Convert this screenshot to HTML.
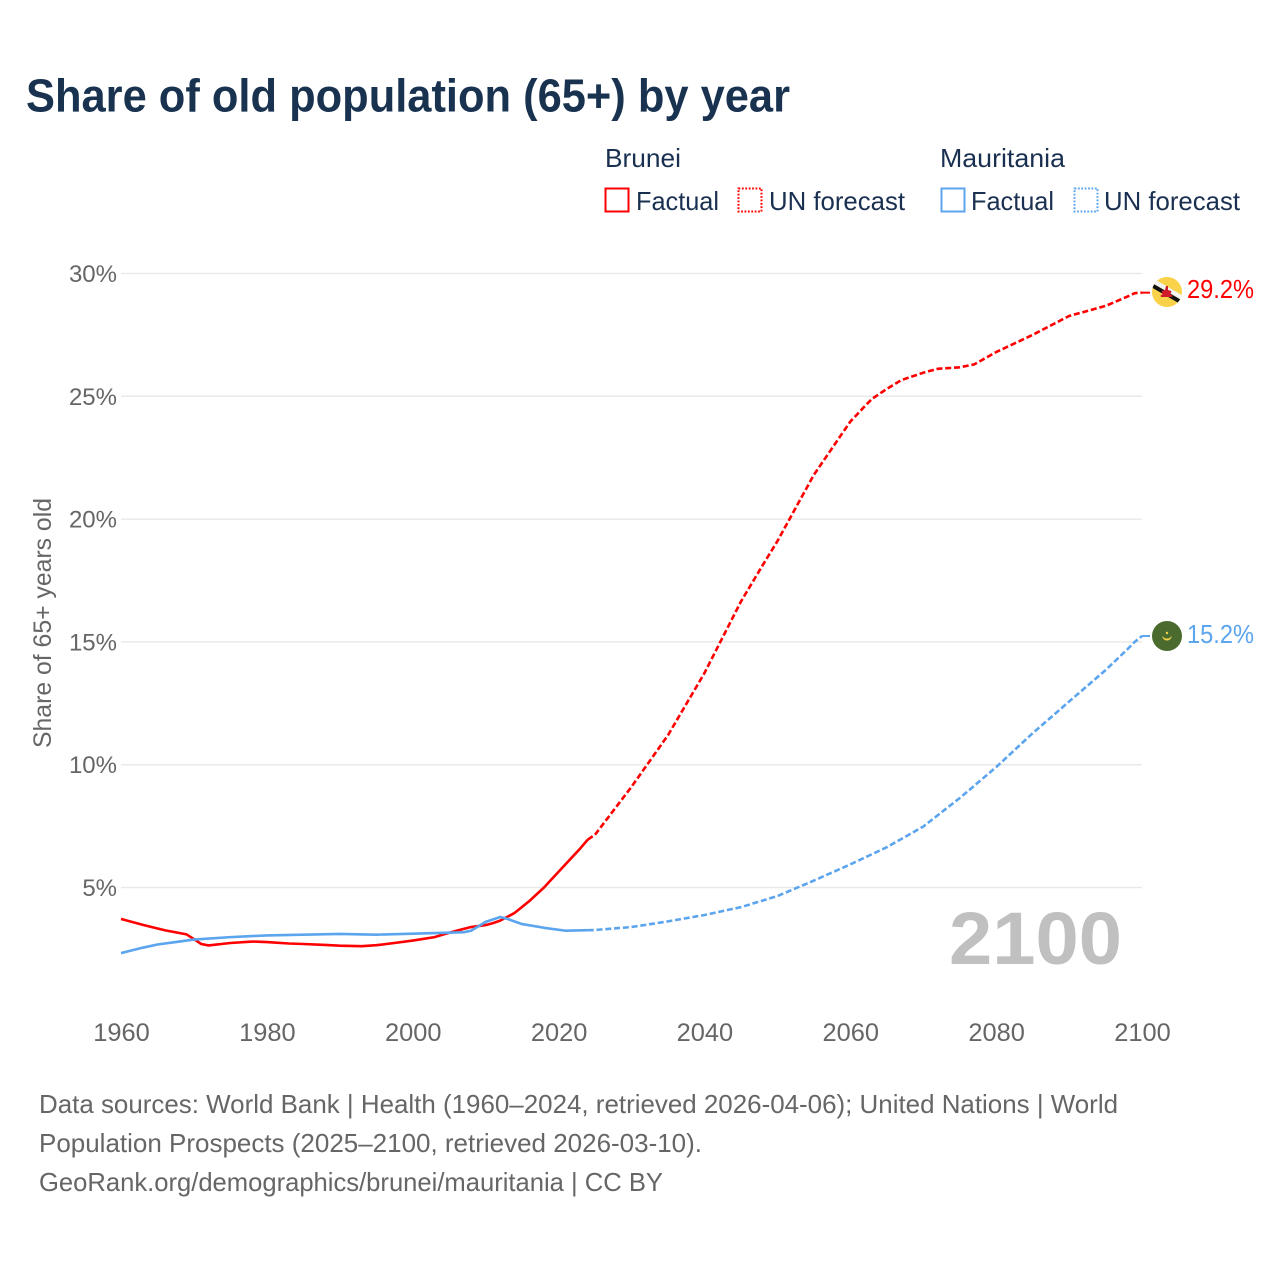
<!DOCTYPE html>
<html lang="en">
<head>
<meta charset="utf-8">
<title>Share of old population (65+) by year</title>
<style>
html,body{margin:0;padding:0;background:#fff;width:1280px;height:1280px;overflow:hidden}
svg{display:block}
text{font-family:"Liberation Sans",sans-serif}
</style>
</head>
<body>
<svg id="chart" xmlns="http://www.w3.org/2000/svg" width="1280" height="1280" viewBox="0 0 1280 1280">
  <text x="26" y="111.500" font-size="46" font-weight="700" fill="#18324f" textLength="764" lengthAdjust="spacingAndGlyphs">Share of old population (65+) by year</text>

  <g font-size="26" fill="#1a3050">
    <text x="605" y="167" textLength="76" lengthAdjust="spacingAndGlyphs">Brunei</text>
    <text x="940" y="167" textLength="125" lengthAdjust="spacingAndGlyphs">Mauritania</text>
    <rect x="605.500" y="188.500" width="23" height="23" fill="none" stroke="#ff0000" stroke-width="2"/>
    <text x="636" y="210" textLength="83" lengthAdjust="spacingAndGlyphs">Factual</text>
    <rect x="738.500" y="188.500" width="23" height="23" fill="none" stroke="#ff0000" stroke-width="2" stroke-dasharray="1.800 1.600"/>
    <text x="769" y="210" textLength="136" lengthAdjust="spacingAndGlyphs">UN forecast</text>
    <rect x="941.500" y="188.500" width="23" height="23" fill="none" stroke="#5ba4ee" stroke-width="2"/>
    <text x="971" y="210" textLength="83" lengthAdjust="spacingAndGlyphs">Factual</text>
    <rect x="1074.500" y="188.500" width="23" height="23" fill="none" stroke="#5ba4ee" stroke-width="2" stroke-dasharray="1.800 1.600"/>
    <text x="1104" y="210" textLength="136" lengthAdjust="spacingAndGlyphs">UN forecast</text>
  </g>

  <g id="grid"></g>
  <g id="yticks" font-size="24" fill="#666666" text-anchor="end"></g>
  <g id="xticks" font-size="25.400" fill="#666666" text-anchor="middle"></g>

  <text transform="translate(51,748) rotate(-90)" font-size="25" fill="#666666" textLength="250" lengthAdjust="spacingAndGlyphs">Share of 65+ years old</text>

  <text x="949" y="964" font-size="74" font-weight="700" fill="#c0c0c0" textLength="173" lengthAdjust="spacingAndGlyphs">2100</text>

  <g id="series"></g>

  <g id="flag-brunei">
    <clipPath id="clip-bn"><circle cx="1167" cy="292" r="15"/></clipPath>
    <circle cx="1167" cy="292" r="15" fill="#f9d24a"/>
    <g clip-path="url(#clip-bn)">
      <line x1="1148" y1="278" x2="1186" y2="300" stroke="#f4f4f4" stroke-width="4.500"/>
      <line x1="1148" y1="283" x2="1186" y2="305" stroke="#111111" stroke-width="4"/>
    </g>
    <path d="M1166 286h2v4l3.500 1-1 3.500 2 1-.5 1.500h-11l-.5-1.500 2-1-1-3.500 3.500-1z" fill="#cf1b2b"/>
  </g>
  <text id="label-brunei" x="1187" y="298" font-size="25.500" fill="#ff0000" textLength="67" lengthAdjust="spacingAndGlyphs">29.2%</text>

  <g id="flag-mauritania">
    <circle cx="1167" cy="636" r="15" fill="#4a6a2e"/>
    <path d="M1162.500 636.500a4.600 4.600 0 0 0 9 0a5.500 5.500 0 0 1-9 0z" fill="#f5d548" stroke="#f5d548" stroke-width=".6"/>
    <circle cx="1167" cy="633" r="1.200" fill="#f5d548"/>
  </g>
  <text id="label-mauritania" x="1187" y="643" font-size="25.500" fill="#5ba4ee" textLength="67" lengthAdjust="spacingAndGlyphs">15.2%</text>

  <g font-size="26" fill="#666666">
    <text x="39" y="1113" textLength="1079" lengthAdjust="spacingAndGlyphs">Data sources: World Bank | Health (1960–2024, retrieved 2026-04-06); United Nations | World</text>
    <text x="39" y="1152" textLength="663" lengthAdjust="spacingAndGlyphs">Population Prospects (2025–2100, retrieved 2026-03-10).</text>
    <text x="39" y="1191" textLength="624" lengthAdjust="spacingAndGlyphs">GeoRank.org/demographics/brunei/mauritania | CC BY</text>
  </g>
</svg>
<script>
var yTickValues = [5, 10, 15, 20, 25, 30];
var yTickLabels = ["5%", "10%", "15%", "20%", "25%", "30%"];
var xTickValues = [1960, 1980, 2000, 2020, 2040, 2060, 2080, 2100];
var xTickLabels = ["1960", "1980", "2000", "2020", "2040", "2060", "2080", "2100"];

var bruneiFactualYears = [1960, 1963, 1966, 1969, 1970, 1971, 1972, 1975, 1978, 1980, 1983, 1985, 1988, 1990, 1993, 1995, 1998, 2000, 2003, 2004, 2006, 2008, 2010, 2011, 2012, 2014, 2016, 2018, 2020, 2022, 2023, 2024];
var bruneiFactual = [3.72, 3.48, 3.26, 3.09, 2.9, 2.7, 2.64, 2.74, 2.8, 2.78, 2.72, 2.7, 2.66, 2.63, 2.61, 2.65, 2.76, 2.84, 2.98, 3.07, 3.24, 3.39, 3.47, 3.55, 3.65, 3.97, 4.45, 5.0, 5.64, 6.28, 6.6, 6.95];
var bruneiForecastYears = [2024, 2025, 2030, 2035, 2040, 2045, 2048, 2050, 2055, 2060, 2062, 2063, 2065, 2067, 2070, 2072, 2075, 2077, 2080, 2085, 2090, 2095, 2098, 2099, 2100];
var bruneiForecast = [6.95, 7.15, 9.1, 11.2, 13.73, 16.64, 18.13, 19.1, 21.8, 23.97, 24.6, 24.9, 25.3, 25.66, 25.96, 26.12, 26.18, 26.3, 26.8, 27.5, 28.27, 28.68, 29.06, 29.2, 29.22];

var mauritaniaFactualYears = [1960, 1963, 1965, 1968, 1970, 1975, 1980, 1985, 1990, 1995, 2000, 2005, 2007, 2008, 2010, 2012, 2013, 2015, 2018, 2021, 2024];
var mauritaniaFactual = [2.33, 2.55, 2.68, 2.8, 2.88, 2.98, 3.05, 3.08, 3.11, 3.08, 3.12, 3.16, 3.18, 3.24, 3.6, 3.8, 3.72, 3.51, 3.36, 3.24, 3.26];
var mauritaniaForecastYears = [2024, 2025, 2030, 2035, 2040, 2045, 2050, 2055, 2060, 2065, 2070, 2075, 2080, 2085, 2090, 2095, 2098, 2099, 2100];
var mauritaniaForecast = [3.26, 3.27, 3.39, 3.62, 3.88, 4.2, 4.65, 5.28, 5.94, 6.64, 7.48, 8.64, 9.9, 11.28, 12.57, 13.85, 14.7, 15.0, 15.24];

var SVGNS = "http://www.w3.org/2000/svg";
var FLAG_X = 1150;
function xScale(year) { return 121 + (year - 1960) * (1142 - 121) / 140; }
function yScale(value) { return 887.5 - (value - 5) * 24.56; }
function pathFor(years, values) {
  var pts = [];
  for (var i = 0; i < years.length; i++) {
    pts.push(xScale(years[i]).toFixed(2) + "," + yScale(values[i]).toFixed(2));
  }
  return pts.join(" ");
}

var grid = document.getElementById("grid");
var yticks = document.getElementById("yticks");
yTickValues.forEach(function (v, i) {
  var line = document.createElementNS(SVGNS, "line");
  
  
  line.setAttribute("x1", 121);
  line.setAttribute("x2", 1142);
  line.setAttribute("y1", yScale(v));
  line.setAttribute("y2", yScale(v));
  line.setAttribute("stroke", "#e9e9e9");
  line.setAttribute("stroke-width", "1.5");
  grid.appendChild(line);

  var t = document.createElementNS(SVGNS, "text");
  
  
  t.setAttribute("x", 117);
  t.setAttribute("y", yScale(v) + 8.5);
  t.textContent = yTickLabels[i];
  yticks.appendChild(t);
});

var xticks = document.getElementById("xticks");
xTickValues.forEach(function (v, i) {
  var t = document.createElementNS(SVGNS, "text");
  
  
  t.setAttribute("x", xScale(v) + 0.5);
  t.setAttribute("y", 1041);
  t.textContent = xTickLabels[i];
  xticks.appendChild(t);
});

var series = document.getElementById("series");
function addLine(el, years, values, color, dashed) {
  el.setAttribute("points", pathFor(years, values));
  el.setAttribute("fill", "none");
  el.setAttribute("stroke", color);
  el.setAttribute("stroke-width", "2.6");
  el.setAttribute("stroke-linejoin", "round");
  if (dashed) { el.setAttribute("stroke-dasharray", "6 2.8"); }
  series.appendChild(el);
}
function addConnector(el, values, color) {
  var last = values[values.length - 1];
  el.setAttribute("x1", xScale(2100));
  el.setAttribute("x2", FLAG_X);
  el.setAttribute("y1", yScale(last));
  el.setAttribute("y2", yScale(last));
  el.setAttribute("stroke", color);
  el.setAttribute("stroke-width", "2");
  series.appendChild(el);
}
function placeEnd(flagId, labelId, values, restValue) {
  var last = values[values.length - 1];
  var dy = yScale(last) - yScale(restValue);
  document.getElementById(flagId).setAttribute("transform", "translate(0," + dy.toFixed(2) + ")");
  var label = document.getElementById(labelId);
  label.setAttribute("transform", "translate(0," + dy.toFixed(2) + ")");
  label.textContent = last.toFixed(1) + "%";
}

var l1 = document.createElementNS(SVGNS, "polyline");


addLine(l1, bruneiForecastYears, bruneiForecast, "#ff0000", true);

var l2 = document.createElementNS(SVGNS, "polyline");


addLine(l2, bruneiFactualYears, bruneiFactual, "#ff0000", false);

var l3 = document.createElementNS(SVGNS, "polyline");


addLine(l3, mauritaniaForecastYears, mauritaniaForecast, "#5ba4ee", true);

var l4 = document.createElementNS(SVGNS, "polyline");


addLine(l4, mauritaniaFactualYears, mauritaniaFactual, "#5ba4ee", false);

var c1 = document.createElementNS(SVGNS, "line");


addConnector(c1, bruneiForecast, "#ff0000");

var c2 = document.createElementNS(SVGNS, "line");


addConnector(c2, mauritaniaForecast, "#5ba4ee");

placeEnd("flag-brunei", "label-brunei", bruneiForecast, 29.22);
placeEnd("flag-mauritania", "label-mauritania", mauritaniaForecast, 15.24);
</script>
</body>
</html>
